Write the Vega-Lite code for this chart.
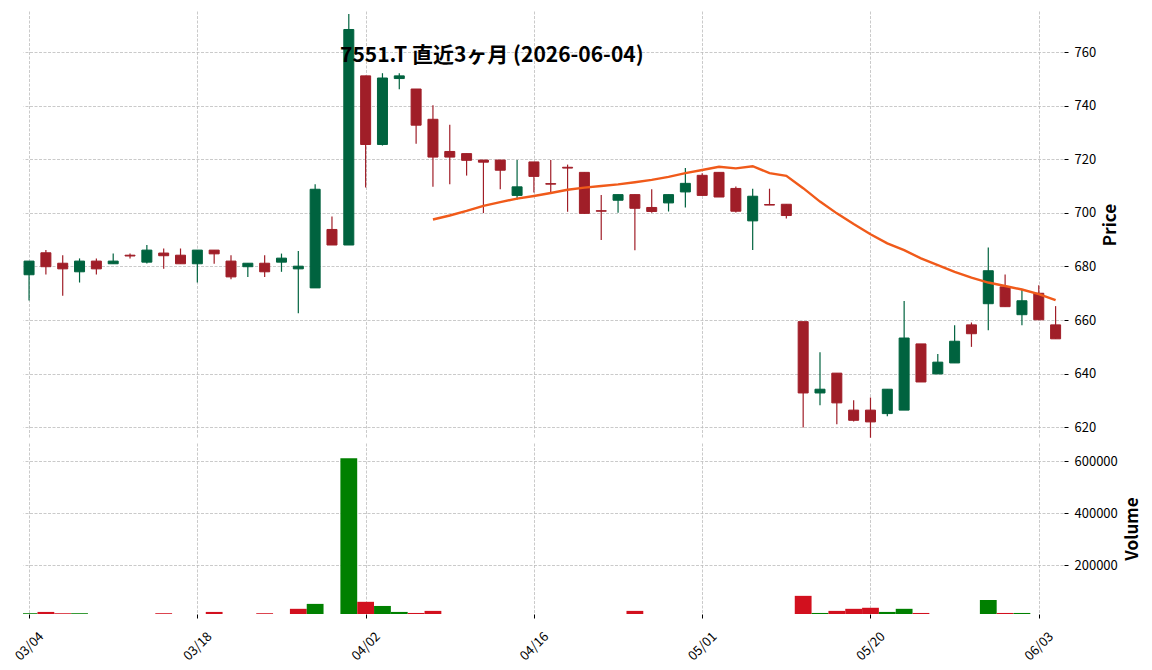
{
  "$schema": "https://vega.github.io/schema/vega-lite/v6.json",
  "padding": {"left": 12, "top": 11, "right": 6, "bottom": 0},
  "autosize": {"type": "pad"},
  "background": "white",
  "config": {
    "font": "Noto Sans CJK JP",
    "view": {"stroke": null},
    "concat": {"spacing": 4},
    "axis": {
      "labelFont": "Noto Sans CJK JP", "labelFontSize": 13, "labelColor": "#000000",
      "titleFont": "Noto Sans CJK JP", "titleFontSize": 17, "titleFontWeight": "bold", "titleColor": "#000000",
      "tickColor": "#000000", "tickSize": 4, "tickWidth": 1,
      "gridColor": "#bdbdbd", "gridDash": [3, 1.5], "gridWidth": 0.8,
      "domain": false, "labelOverlap": false, "labelFlush": false
    }
  },
  "title": {
    "text": "7551.T 直近3ヶ月 (2026-06-04)",
    "anchor": "start", "orient": "top", "frame": "group",
    "offset": -72, "dx": 317, "baseline": "alphabetic",
    "font": "Noto Sans CJK JP", "fontSize": 21, "fontWeight": "bold", "color": "#000000"
  },
  "datasets": {
    "d": [
      {"d":"03/04","i":0,"o":676.9,"h":682.0,"l":667.3,"c":682.0,"v":14000,"vc":"up","ma":null},
      {"d":"03/05","i":1,"o":685.1,"h":686.1,"l":677.0,"c":679.9,"v":19000,"vc":"down","ma":null},
      {"d":"03/06","i":2,"o":681.2,"h":684.2,"l":669.1,"c":679.1,"v":14000,"vc":"down","ma":null},
      {"d":"03/09","i":3,"o":678.0,"h":683.0,"l":674.0,"c":682.0,"v":14000,"vc":"up","ma":null},
      {"d":"03/10","i":4,"o":682.0,"h":683.0,"l":677.0,"c":679.1,"v":0,"vc":"down","ma":null},
      {"d":"03/11","i":5,"o":681.0,"h":684.8,"l":681.0,"c":682.0,"v":0,"vc":"up","ma":null},
      {"d":"03/12","i":6,"o":684.2,"h":684.8,"l":683.0,"c":683.9,"v":0,"vc":"up","ma":null},
      {"d":"03/13","i":7,"o":681.6,"h":688.0,"l":681.1,"c":686.1,"v":0,"vc":"up","ma":null},
      {"d":"03/16","i":8,"o":685.0,"h":686.7,"l":679.1,"c":684.0,"v":14000,"vc":"down","ma":null},
      {"d":"03/17","i":9,"o":684.2,"h":686.7,"l":681.0,"c":681.0,"v":0,"vc":"down","ma":null},
      {"d":"03/18","i":10,"o":681.0,"h":686.1,"l":674.0,"c":686.1,"v":0,"vc":"up","ma":null},
      {"d":"03/19","i":11,"o":686.1,"h":686.1,"l":681.0,"c":684.7,"v":19000,"vc":"down","ma":null},
      {"d":"03/23","i":12,"o":682.0,"h":684.2,"l":675.2,"c":676.1,"v":0,"vc":"down","ma":null},
      {"d":"03/24","i":13,"o":679.9,"h":681.2,"l":676.1,"c":681.2,"v":0,"vc":"up","ma":null},
      {"d":"03/25","i":14,"o":681.2,"h":684.2,"l":676.1,"c":678.0,"v":14000,"vc":"down","ma":null},
      {"d":"03/26","i":15,"o":681.6,"h":684.8,"l":678.0,"c":683.1,"v":0,"vc":"up","ma":null},
      {"d":"03/27","i":16,"o":679.1,"h":685.8,"l":662.5,"c":680.1,"v":31000,"vc":"down","ma":null},
      {"d":"03/30","i":17,"o":672.0,"h":710.7,"l":672.0,"c":708.8,"v":50000,"vc":"up","ma":null},
      {"d":"03/31","i":18,"o":693.8,"h":698.6,"l":688.0,"c":688.0,"v":0,"vc":"down","ma":null},
      {"d":"04/01","i":19,"o":688.0,"h":774.2,"l":688.0,"c":768.4,"v":612000,"vc":"up","ma":null},
      {"d":"04/02","i":20,"o":751.1,"h":751.1,"l":709.5,"c":725.5,"v":58000,"vc":"down","ma":null},
      {"d":"04/03","i":21,"o":725.5,"h":752.1,"l":725.1,"c":750.3,"v":42000,"vc":"up","ma":null},
      {"d":"04/06","i":22,"o":750.1,"h":752.1,"l":746.1,"c":751.1,"v":19000,"vc":"up","ma":null},
      {"d":"04/07","i":23,"o":746.2,"h":746.2,"l":725.8,"c":732.7,"v":15000,"vc":"down","ma":null},
      {"d":"04/08","i":24,"o":734.9,"h":740.1,"l":709.7,"c":720.8,"v":23000,"vc":"down","ma":697.5},
      {"d":"04/09","i":25,"o":722.9,"h":732.9,"l":710.7,"c":720.8,"v":0,"vc":"down","ma":699.0},
      {"d":"04/10","i":26,"o":722.1,"h":722.1,"l":713.9,"c":719.6,"v":0,"vc":"down","ma":700.7},
      {"d":"04/13","i":27,"o":719.7,"h":719.7,"l":699.9,"c":718.9,"v":0,"vc":"down","ma":702.6},
      {"d":"04/14","i":28,"o":719.7,"h":719.7,"l":708.8,"c":715.9,"v":0,"vc":"down","ma":704.0},
      {"d":"04/15","i":29,"o":706.5,"h":719.7,"l":705.0,"c":709.7,"v":0,"vc":"down","ma":705.3},
      {"d":"04/16","i":30,"o":719.0,"h":719.0,"l":707.6,"c":713.6,"v":0,"vc":"up","ma":706.3},
      {"d":"04/17","i":31,"o":710.9,"h":719.7,"l":707.2,"c":710.7,"v":0,"vc":"down","ma":707.4},
      {"d":"04/20","i":32,"o":717.0,"h":718.0,"l":700.4,"c":716.7,"v":0,"vc":"up","ma":708.6},
      {"d":"04/21","i":33,"o":715.1,"h":715.1,"l":699.7,"c":699.8,"v":0,"vc":"down","ma":709.4},
      {"d":"04/22","i":34,"o":700.8,"h":706.7,"l":689.9,"c":700.6,"v":0,"vc":"up","ma":710.0},
      {"d":"04/23","i":35,"o":704.7,"h":706.8,"l":700.0,"c":706.8,"v":0,"vc":"up","ma":710.6},
      {"d":"04/24","i":36,"o":706.8,"h":706.8,"l":686.0,"c":701.7,"v":23000,"vc":"down","ma":711.4},
      {"d":"04/27","i":37,"o":702.0,"h":708.8,"l":700.0,"c":700.5,"v":0,"vc":"down","ma":712.3},
      {"d":"04/28","i":38,"o":703.7,"h":706.8,"l":700.5,"c":706.8,"v":0,"vc":"up","ma":713.4},
      {"d":"04/30","i":39,"o":707.8,"h":716.7,"l":702.0,"c":711.0,"v":0,"vc":"up","ma":714.8},
      {"d":"05/01","i":40,"o":714.0,"h":714.8,"l":706.4,"c":706.5,"v":0,"vc":"down","ma":716.0},
      {"d":"05/07","i":41,"o":715.1,"h":715.1,"l":705.9,"c":705.9,"v":0,"vc":"down","ma":717.2},
      {"d":"05/08","i":42,"o":709.1,"h":709.8,"l":700.1,"c":700.6,"v":0,"vc":"down","ma":716.6},
      {"d":"05/11","i":43,"o":697.0,"h":709.0,"l":686.1,"c":706.2,"v":0,"vc":"up","ma":717.4},
      {"d":"05/12","i":44,"o":703.1,"h":709.0,"l":702.9,"c":702.9,"v":0,"vc":"down","ma":714.8},
      {"d":"05/13","i":45,"o":703.2,"h":703.2,"l":697.9,"c":699.0,"v":0,"vc":"down","ma":713.8},
      {"d":"05/14","i":46,"o":659.4,"h":659.4,"l":619.9,"c":632.8,"v":81000,"vc":"down","ma":709.2},
      {"d":"05/15","i":47,"o":632.8,"h":648.0,"l":628.2,"c":634.2,"v":15000,"vc":"up","ma":704.2},
      {"d":"05/18","i":48,"o":640.2,"h":640.2,"l":621.1,"c":629.1,"v":23000,"vc":"down","ma":699.8},
      {"d":"05/19","i":49,"o":626.4,"h":630.1,"l":622.2,"c":622.6,"v":31000,"vc":"down","ma":695.8},
      {"d":"05/20","i":50,"o":626.4,"h":631.1,"l":616.1,"c":622.0,"v":35000,"vc":"down","ma":692.0},
      {"d":"05/21","i":51,"o":625.1,"h":634.2,"l":624.1,"c":634.2,"v":19000,"vc":"up","ma":688.6},
      {"d":"05/22","i":52,"o":626.4,"h":667.1,"l":626.4,"c":653.3,"v":31000,"vc":"up","ma":686.1},
      {"d":"05/25","i":53,"o":651.1,"h":651.1,"l":636.9,"c":636.9,"v":15000,"vc":"down","ma":683.0},
      {"d":"05/26","i":54,"o":639.9,"h":647.3,"l":639.9,"c":644.3,"v":0,"vc":"up","ma":680.5},
      {"d":"05/27","i":55,"o":644.0,"h":658.1,"l":644.0,"c":652.1,"v":0,"vc":"up","ma":678.0},
      {"d":"05/28","i":56,"o":658.2,"h":659.1,"l":650.0,"c":654.9,"v":0,"vc":"up","ma":675.8},
      {"d":"05/29","i":57,"o":666.1,"h":687.1,"l":656.2,"c":678.4,"v":65000,"vc":"up","ma":674.0},
      {"d":"06/01","i":58,"o":672.4,"h":677.0,"l":665.0,"c":665.0,"v":15000,"vc":"down","ma":672.7},
      {"d":"06/02","i":59,"o":662.0,"h":671.2,"l":658.1,"c":667.2,"v":15000,"vc":"up","ma":671.4},
      {"d":"06/03","i":60,"o":670.0,"h":673.0,"l":660.1,"c":660.1,"v":0,"vc":"down","ma":669.7},
      {"d":"06/04","i":61,"o":658.2,"h":665.2,"l":653.0,"c":653.0,"v":0,"vc":"down","ma":667.4}
    ]
  },
  "vconcat": [
    {
      "width": 1040,
      "height": 427,
      "data": {"name": "d"},
      "encoding": {
        "x": {
          "field": "i", "type": "quantitative",
          "scale": {"domain": [-0.36, 61.44], "nice": false, "zero": false, "padding": 0},
          "axis": {"values": [0, 10, 20, 30, 40, 50, 60], "labels": false, "ticks": false, "title": null, "grid": true}
        }
      },
      "layer": [
        {
          "mark": {"type": "rule", "strokeWidth": 1.2},
          "encoding": {
            "y": {
              "field": "l", "type": "quantitative",
              "scale": {"domain": [616, 775.3], "nice": false, "zero": false},
              "axis": {"orient": "right", "values": [620, 640, 660, 680, 700, 720, 740, 760], "title": "Price", "titleAngle": 270, "titleBaseline": "top", "titlePadding": 7, "labelPadding": 6, "offset": 1, "grid": true}
            },
            "y2": {"field": "h"},
            "color": {"condition": {"test": "datum.c >= datum.o", "value": "#00633f"}, "value": "#a01e28"}
          }
        },
        {
          "mark": {"type": "bar", "width": 10, "strokeWidth": 1},
          "encoding": {
            "y": {"field": "o", "type": "quantitative", "title": "Price"},
            "y2": {"field": "c"},
            "color": {"condition": {"test": "datum.c >= datum.o", "value": "#00633f"}, "value": "#a01e28"},
            "stroke": {"condition": {"test": "datum.c >= datum.o", "value": "#00633f"}, "value": "#a01e28"}
          }
        },
        {
          "mark": {"type": "line", "color": "#f05a1a", "strokeWidth": 2.4},
          "encoding": {
            "y": {"field": "ma", "type": "quantitative", "title": "Price"}
          }
        }
      ]
    },
    {
      "width": 1040,
      "height": 171,
      "data": {"name": "d"},
      "mark": {"type": "bar", "width": 16.8, "clip": true},
      "encoding": {
        "x": {
          "field": "i", "type": "quantitative",
          "scale": {"domain": [-0.36, 61.44], "nice": false, "zero": false, "padding": 0},
          "axis": {
            "values": [0, 10, 20, 30, 40, 50, 60], "title": null, "grid": true,
            "labelAngle": -45, "labelAlign": "center", "labelBaseline": "middle", "labelPadding": 28,
            "labelExpr": "datum.value == 0 ? '03/04' : datum.value == 10 ? '03/18' : datum.value == 20 ? '04/02' : datum.value == 30 ? '04/16' : datum.value == 40 ? '05/01' : datum.value == 50 ? '05/20' : '06/03'"
          }
        },
        "y": {
          "field": "v", "type": "quantitative",
          "scale": {"domain": [11000, 670600], "nice": false, "zero": false},
          "axis": {"orient": "right", "values": [200000, 400000, 600000], "format": "d", "title": "Volume", "titleAngle": 270, "titleBaseline": "top", "titlePadding": 7, "labelPadding": 6, "offset": 1, "grid": true}
        },
        "color": {
          "field": "vc", "type": "nominal",
          "scale": {"domain": ["up", "down"], "range": ["#008000", "#d2101e"]},
          "legend": null
        }
      }
    }
  ]
}
